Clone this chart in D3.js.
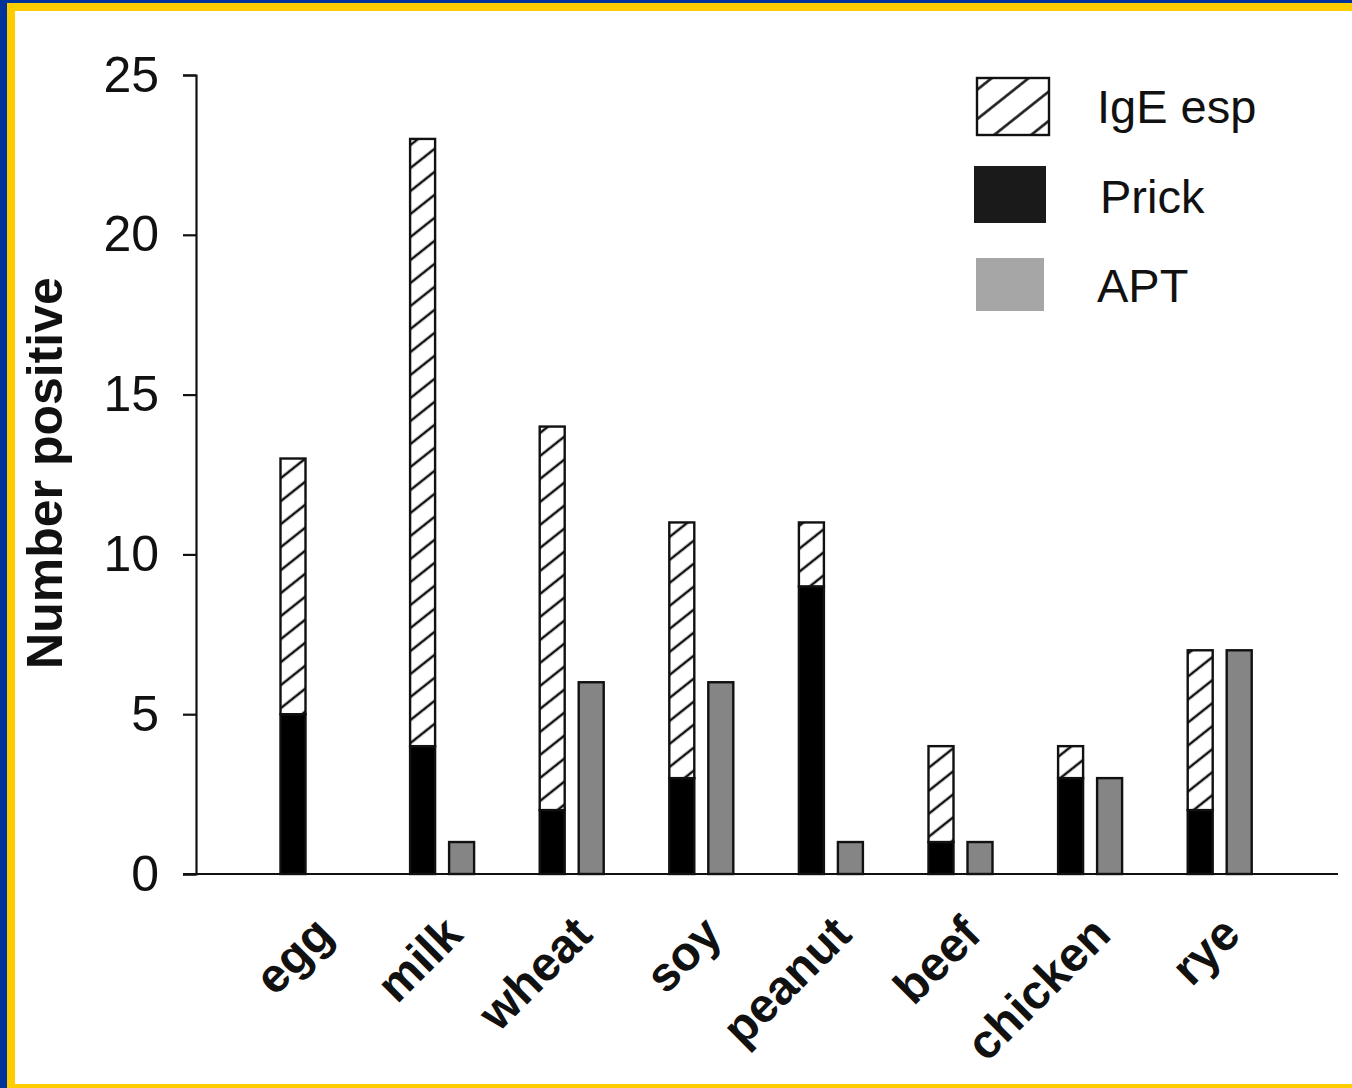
<!DOCTYPE html>
<html>
<head>
<meta charset="utf-8">
<script src="https://cdn.jsdelivr.net/npm/d3@7"></script>
<style>
  html, body { margin: 0; padding: 0; background: #fff; }
  svg { display: block; }
  text { font-family: "Liberation Sans", Arial, Helvetica, sans-serif; fill: #111; }
</style>
</head>
<body>
<svg id="chart" width="1352" height="1088"></svg>
<script>
// ---- data ----
const categories = ["egg", "milk", "wheat", "soy", "peanut", "beef", "chicken", "rye"];
const prickValues = [5, 4, 2, 3, 9, 1, 3, 2];          // black, bottom of stack
const igeEspValues = [8, 19, 12, 8, 2, 3, 1, 5];       // hatched, stacked on prick
const aptValues = [0, 1, 6, 6, 1, 1, 3, 7];            // grey, separate bar
const yTicks = [0, 5, 10, 15, 20, 25];
const legendLabels = ["IgE esp", "Prick", "APT"];
const yTitle = "Number positive";

const rows = categories.map((c, i) => ({ cat: c, prick: prickValues[i], ige: igeEspValues[i], apt: aptValues[i] }));

const svg = d3.select("#chart");
const W = 1352, H = 1088;

// frame
svg.append("rect").attr("x", 0).attr("y", 0).attr("width", W).attr("height", H).attr("fill", "#ffcc00");
svg.append("rect").attr("x", 15).attr("y", 11).attr("width", W - 15).attr("height", H - 11 - 4).attr("fill", "#ffffff");
svg.append("rect").attr("x", 0).attr("y", 0).attr("width", W).attr("height", 3).attr("fill", "#003399");
svg.append("rect").attr("x", 0).attr("y", 0).attr("width", 7).attr("height", H).attr("fill", "#003399");

// patterns
const defs = svg.append("defs");
function hatch(id, spacing, width) {
  const p = defs.append("pattern").attr("id", id)
    .attr("patternUnits", "userSpaceOnUse")
    .attr("width", 60).attr("height", spacing)
    .attr("patternTransform", "rotate(-38.5)");
  p.append("rect").attr("width", 60).attr("height", spacing).attr("fill", "#fff");
  p.append("line").attr("x1", 0).attr("x2", 60).attr("y1", spacing / 2).attr("y2", spacing / 2)
    .attr("stroke", "#111").attr("stroke-width", width);
}
hatch("hatch", 18, 2.5);
hatch("hatchLegend", 23, 2.6);

// scales
const y = d3.scaleLinear().domain([0, 25]).range([874, 75]);
const x = d3.scaleBand().domain(categories).range([247.7, 1284.5]).paddingInner(0).paddingOuter(0);
const groupW = 64;
const xSub = d3.scaleBand().domain(["stack", "apt"]).range([0, groupW]).paddingInner(14 / 39);
const gx = c => x(c) + (x.bandwidth() - groupW) / 2;

// stacked bars
const stack = d3.stack().keys(["prick", "ige"])(rows);
const fills = { prick: "#000", ige: "url(#hatch)" };
stack.forEach(layer => {
  svg.append("g").selectAll("rect")
    .data(layer.filter(d => d[1] - d[0] > 0))
    .join("rect")
    .attr("x", d => gx(d.data.cat) + xSub("stack"))
    .attr("width", xSub.bandwidth())
    .attr("y", d => y(d[1]))
    .attr("height", d => y(d[0]) - y(d[1]))
    .attr("fill", fills[layer.key])
    .attr("stroke", "#111").attr("stroke-width", 2.4);
});

// APT bars
svg.append("g").selectAll("rect")
  .data(rows.filter(d => d.apt > 0))
  .join("rect")
  .attr("x", d => gx(d.cat) + xSub("apt"))
  .attr("width", xSub.bandwidth())
  .attr("y", d => y(d.apt))
  .attr("height", d => y(0) - y(d.apt))
  .attr("fill", "#858585")
  .attr("stroke", "#111").attr("stroke-width", 2.4);

// y axis
const yAxis = svg.append("g").attr("transform", "translate(196,0)")
  .call(d3.axisLeft(y).tickValues(yTicks).tickSize(13).tickPadding(24).tickFormat(d3.format("d")));
yAxis.select(".domain").attr("stroke", "#111").attr("stroke-width", 2.2);
yAxis.selectAll(".tick line").attr("stroke", "#111").attr("stroke-width", 2.2);
yAxis.selectAll(".tick text").attr("font-size", 50).attr("fill", "#111")
  .attr("font-family", "'Liberation Sans', Arial, sans-serif");

// x axis line
const xAxis = svg.append("g").attr("transform", "translate(0,874)")
  .call(d3.axisBottom(x).tickSize(0).tickFormat(""));
xAxis.select(".domain").attr("d", "M183,0H1338").attr("stroke", "#111").attr("stroke-width", 2.2);

// x labels
svg.append("g").selectAll("text")
  .data(categories)
  .join("text")
  .attr("transform", c => `translate(${x(c) + x.bandwidth() / 2 + 11},${925}) rotate(-45)`)
  .attr("text-anchor", "end")
  .attr("dy", "0.35em")
  .attr("font-size", 48)
  .attr("font-weight", "bold")
  .text(c => c);

// y title
svg.append("text")
  .attr("transform", "translate(62,473) rotate(-90)")
  .attr("text-anchor", "middle")
  .attr("font-size", 50)
  .attr("font-weight", "bold")
  .text(yTitle);

// legend
const legendBoxes = [
  { x: 977, y: 78, w: 72, h: 57, fill: "url(#hatchLegend)", stroke: "#111" },
  { x: 974, y: 166, w: 72, h: 57, fill: "#1a1a1a", stroke: "none" },
  { x: 976, y: 258, w: 68, h: 53, fill: "#a6a6a6", stroke: "none" }
];
const legendBase = [123, 213, 302];
const legendTextX = [1097, 1100, 1097];
const lg = svg.append("g");
lg.selectAll("rect").data(legendBoxes).join("rect")
  .attr("x", d => d.x).attr("y", d => d.y).attr("width", d => d.w).attr("height", d => d.h)
  .attr("fill", d => d.fill).attr("stroke", d => d.stroke).attr("stroke-width", 2.4);
lg.selectAll("text").data(legendLabels).join("text")
  .attr("x", (d, i) => legendTextX[i]).attr("y", (d, i) => legendBase[i])
  .attr("font-size", 47)
  .text(d => d);
</script>
</body>
</html>
